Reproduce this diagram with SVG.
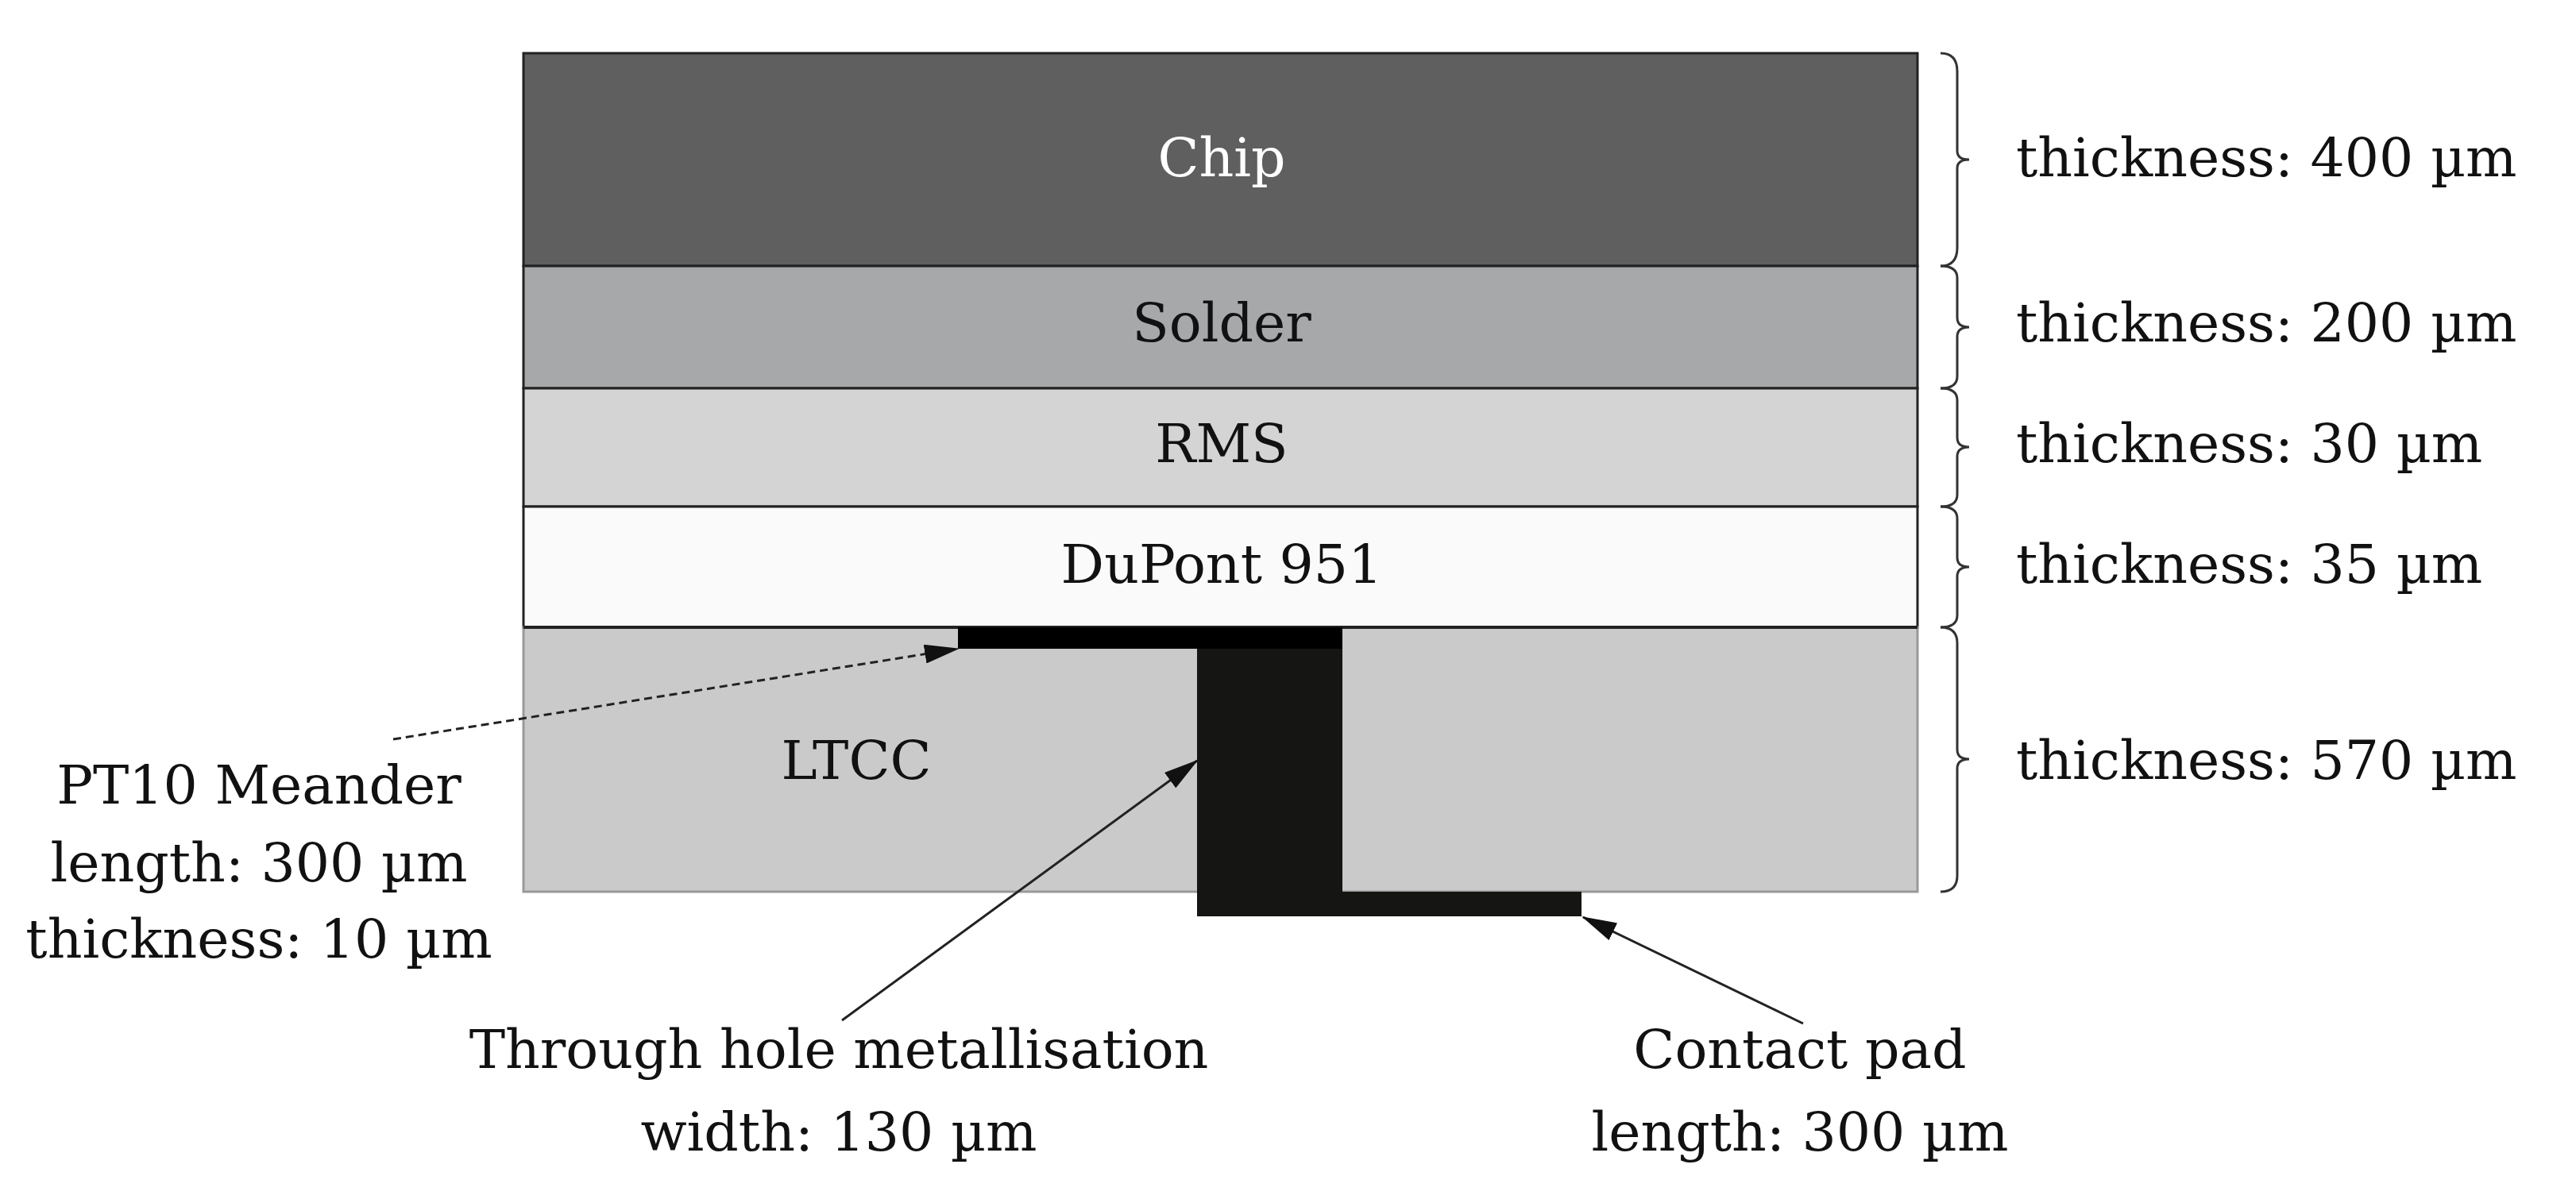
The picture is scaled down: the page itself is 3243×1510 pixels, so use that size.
<svg xmlns="http://www.w3.org/2000/svg" width="3243" height="1510" viewBox="0 0 3243 1510">
<style>
text{font-family:"DejaVu Serif","Liberation Serif",serif;font-size:68px;fill:#111}
.c{text-anchor:middle}
.layer{stroke:#222;stroke-width:3}
.brace{fill:none;stroke:#333;stroke-width:3}
.arr{stroke:#222;stroke-width:3;fill:none;marker-end:url(#ah)}
</style>
<defs>
<marker id="ah" markerWidth="44" markerHeight="24" refX="42" refY="12" orient="auto" markerUnits="userSpaceOnUse" viewBox="0 0 44 24">
<path d="M0,0 L44,12 L0,24 Z" fill="#111"/>
</marker>
</defs>
<rect width="3243" height="1510" fill="#fff"/>
<g id="chip"><rect class="layer" x="659" y="67" width="1755" height="268" fill="#5f5f5f"/><text class="c" x="1538" y="222" style="fill:#fff">Chip</text></g>
<g id="solder"><rect class="layer" x="659" y="335" width="1755" height="154" fill="#a7a8aa"/><text class="c" x="1538" y="430">Solder</text></g>
<g id="rms"><rect class="layer" x="659" y="489" width="1755" height="149" fill="#d4d4d4"/><text class="c" x="1538" y="582">RMS</text></g>
<g id="dupont"><rect class="layer" x="659" y="638" width="1755" height="152" fill="#fafafa"/><text class="c" x="1538" y="734">DuPont 951</text></g>
<g id="ltcc"><rect x="659" y="790" width="1755" height="333" fill="#cacaca" stroke="#999" stroke-width="3"/><line x1="659" y1="790" x2="2414" y2="790" stroke="#222" stroke-width="4"/><text class="c" x="1078" y="981">LTCC</text></g>
<g id="meander"><rect x="1206" y="790" width="484" height="27" fill="#000"/></g>
<g id="via"><rect x="1507" y="817" width="183" height="337" fill="#151513"/></g>
<g id="pad"><rect x="1690" y="1123" width="301" height="31" fill="#151513"/></g>
<g id="braces">
<path class="brace" d="M2443,67 Q2464,67 2464,90 L2464,190 Q2464,201 2479,201 Q2464,201 2464,212 L2464,312 Q2464,335 2443,335"/>
<path class="brace" d="M2443,335 Q2464,335 2464,350 L2464,400 Q2464,412 2479,412 Q2464,412 2464,424 L2464,474 Q2464,489 2443,489"/>
<path class="brace" d="M2443,489 Q2464,489 2464,504 L2464,551 Q2464,563 2479,563 Q2464,563 2464,575 L2464,623 Q2464,638 2443,638"/>
<path class="brace" d="M2443,638 Q2464,638 2464,653 L2464,702 Q2464,714 2479,714 Q2464,714 2464,726 L2464,775 Q2464,790 2443,790"/>
<path class="brace" d="M2443,790 Q2464,790 2464,810 L2464,944 Q2464,956 2479,956 Q2464,956 2464,968 L2464,1103 Q2464,1123 2443,1123"/>
</g>
<g id="labels">
<text x="2538" y="222">thickness: 400 µm</text>
<text x="2538" y="430">thickness: 200 µm</text>
<text x="2538" y="582">thickness: 30 µm</text>
<text x="2538" y="734">thickness: 35 µm</text>
<text x="2538" y="981">thickness: 570 µm</text>
<text class="c" x="326" y="1012">PT10 Meander</text>
<text class="c" x="326" y="1110">length: 300 µm</text>
<text class="c" x="326" y="1206">thickness: 10 µm</text>
<text class="c" x="1056" y="1345">Through hole metallisation</text>
<text class="c" x="1056" y="1449">width: 130 µm</text>
<text class="c" x="2266" y="1345">Contact pad</text>
<text class="c" x="2266" y="1449">length: 300 µm</text>
</g>
<g id="connectors">
<path class="arr" d="M495,931 L1206,817" stroke-dasharray="10,6"/>
<path class="arr" d="M1060,1285 L1507,958"/>
<path class="arr" d="M2270,1289 L1993,1155"/>
</g>
</svg>
